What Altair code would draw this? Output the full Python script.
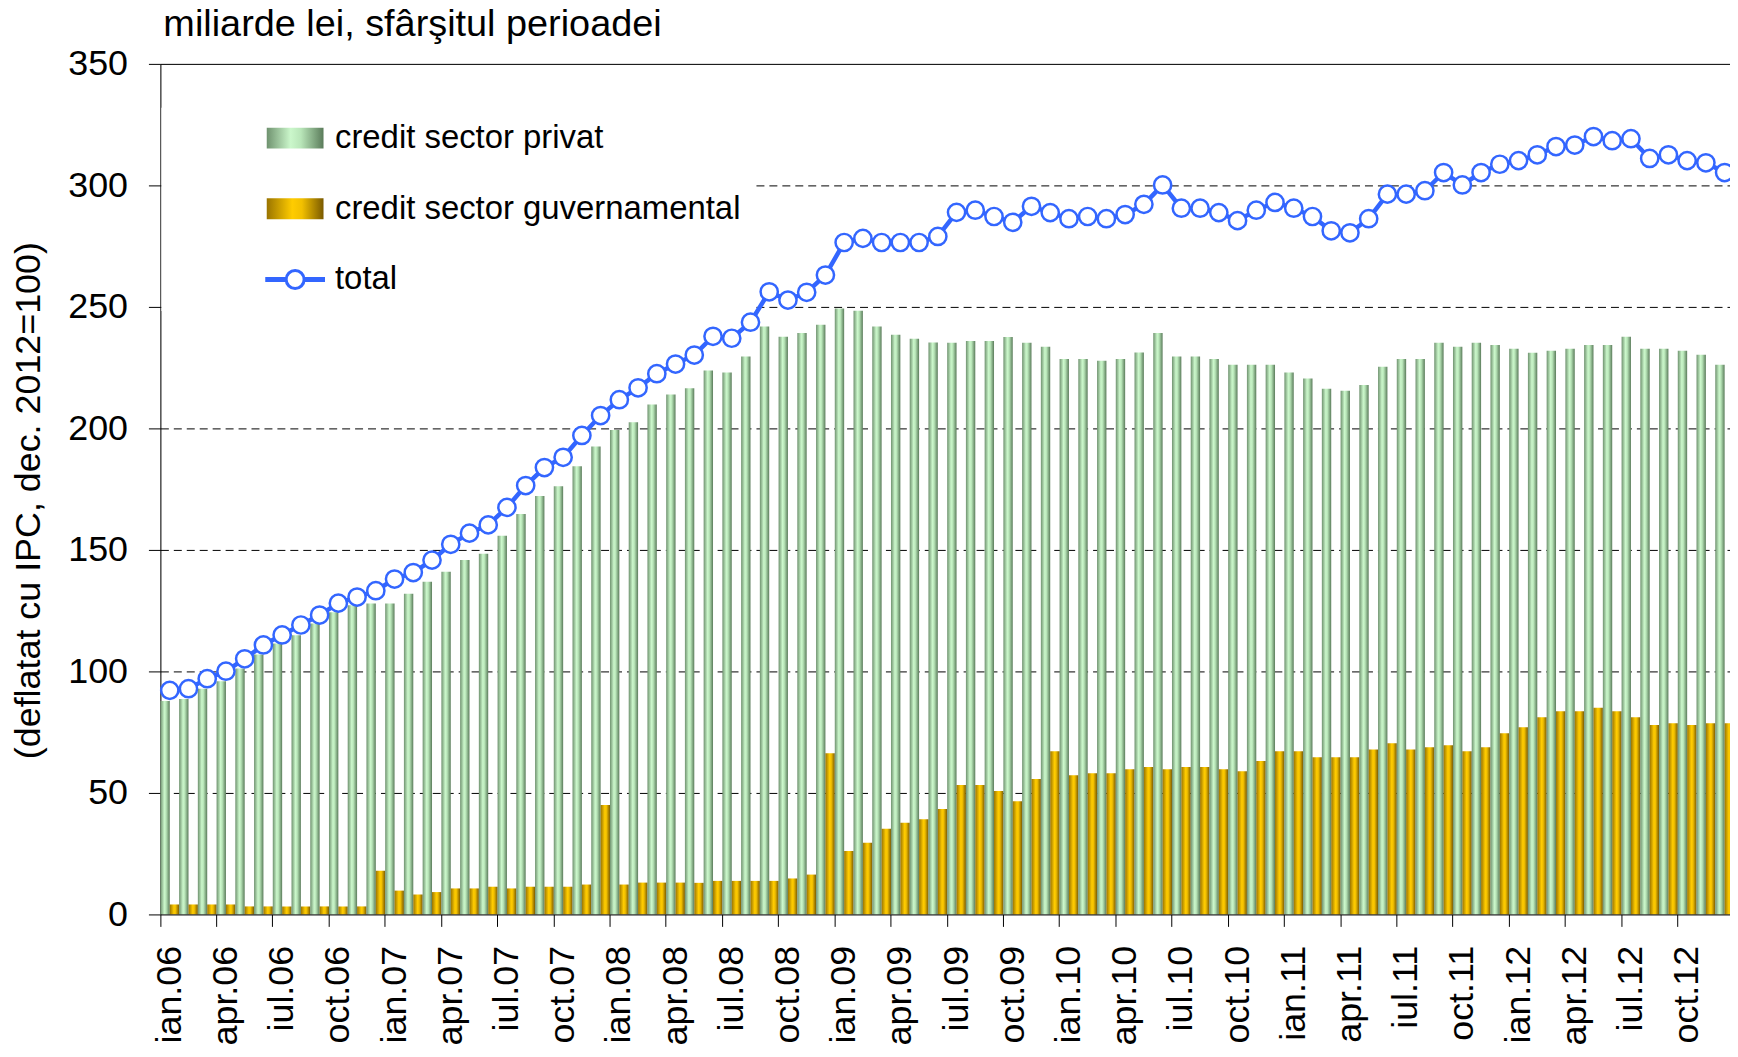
import altair as alt
import pandas as pd

FONT = "Liberation Sans, Arial, sans-serif"
BLUE = "#3366FF"

month_names = ["ian", "feb", "mar", "apr", "mai", "iun", "iul", "aug", "sep", "oct", "noi", "dec"]
years = ["06", "07", "08", "09", "10", "11", "12"]
months = [f"{m}.{y}" for y in years for m in month_names]
tick_months = [f"{m}.{y}" for y in years for m in ["ian", "apr", "iul", "oct"]]

private = [
    87.8, 88.6, 92.9, 96.0, 101.2, 107.0, 111.5, 114.9, 119.7, 124.3, 127.2, 127.9,
    127.9, 132.0, 136.9, 141.0, 145.9, 148.4, 155.8, 164.8, 172.2, 176.2, 184.4, 192.6,
    199.3, 202.5, 209.8, 214.0, 216.5, 223.8, 223.0, 229.6, 241.9, 237.7, 239.3, 242.7,
    249.3, 248.4, 241.9, 238.5, 236.9, 235.3, 235.2, 236.0, 236.0, 237.6, 235.2, 233.6,
    228.6, 228.6, 227.8, 228.6, 231.2, 239.3, 229.6, 229.6, 228.6, 226.2, 226.2, 226.2,
    223.0, 220.5, 216.3, 215.5, 217.9, 225.4, 228.6, 228.6, 235.2, 233.6, 235.2, 234.3,
    232.8, 231.1, 232.0, 232.8, 234.3, 234.3, 237.7, 232.8, 232.8, 232.0, 230.3, 226.2,
]
government = [
    4.1, 4.1, 4.1, 4.1, 3.3, 3.3, 3.3, 3.3, 3.3, 3.3, 3.3, 18.0,
    9.8, 8.2, 9.2, 10.7, 10.7, 11.4, 10.7, 11.4, 11.4, 11.4, 12.3, 45.0,
    12.3, 13.1, 13.1, 13.1, 13.0, 13.8, 13.8, 13.8, 13.8, 14.8, 16.4, 66.3,
    26.1, 29.5, 35.3, 37.7, 39.2, 43.4, 53.3, 53.3, 50.8, 46.6, 55.7, 67.1,
    57.3, 58.1, 58.1, 59.7, 60.7, 59.7, 60.7, 60.7, 59.7, 58.9, 63.1, 67.1,
    67.1, 64.7, 64.7, 64.7, 67.9, 70.4, 67.9, 68.8, 69.6, 67.1, 68.8, 74.6,
    77.0, 81.1, 83.6, 83.6, 85.1, 83.6, 81.1, 77.9, 78.7, 77.9, 78.7, 78.7,
]
total = [
    92.2, 92.9, 97.0, 100.1, 105.2, 110.9, 115.0, 119.1, 123.2, 128.1, 130.6, 133.2,
    138.0, 140.7, 145.8, 152.3, 156.9, 160.3, 167.5, 176.5, 183.9, 188.1, 197.1, 205.3,
    211.8, 216.7, 222.5, 226.5, 230.2, 237.9, 237.1, 243.7, 256.2, 252.8, 256.0, 263.1,
    276.5, 278.2, 276.5, 276.5, 276.5, 279.0, 288.9, 289.8, 287.2, 284.8, 291.4, 288.8,
    286.3, 287.2, 286.3, 288.0, 292.2, 300.2, 290.6, 290.6, 288.8, 285.5, 289.8, 293.0,
    290.6, 287.2, 281.3, 280.5, 286.3, 296.4, 296.4, 297.8, 305.3, 300.2, 305.3, 308.7,
    310.2, 312.6, 316.0, 316.6, 320.1, 318.4, 319.2, 311.1, 312.6, 310.2, 309.3, 305.3,
]

S_PRIV = "credit sector privat"
S_GOV = "credit sector guvernamental"
S_TOT = "total"
series_names = [S_PRIV, S_GOV, S_TOT]

rows = []
for i, m in enumerate(months):
    rows.append({"month": m, "series": S_PRIV, "value": private[i]})
    rows.append({"month": m, "series": S_GOV, "value": government[i]})
    rows.append({"month": m, "series": S_TOT, "value": total[i]})
df = pd.DataFrame(rows)
legend_df = pd.DataFrame({"series": series_names})

grad_green = ("{gradient: 'linear', x1: 0, y1: 0, x2: 1, y2: 0, stops: ["
              "{offset: 0, color: '#6f926f'}, {offset: 0.42, color: '#cbf7cb'}, "
              "{offset: 0.6, color: '#b9e6b9'}, {offset: 1, color: '#5a7b5a'}]}")
grad_gold = ("{gradient: 'linear', x1: 0, y1: 0, x2: 1, y2: 0, stops: ["
             "{offset: 0, color: '#9a7400'}, {offset: 0.45, color: '#ffcc00'}, "
             "{offset: 0.62, color: '#f2c000'}, {offset: 1, color: '#7a5a00'}]}")

swatch = "M-1.9,-0.7H1.9V0.7H-1.9Z"
line_sym = ("M-2,-0.07H-0.62M0.62,-0.07H2M-2,0.07H-0.62M0.62,0.07H2"
            "M-0.6,0A0.6,0.6 0 1,1 0.6,0A0.6,0.6 0 1,1 -0.6,0")

fill_scale = alt.Scale(domain=series_names,
                       range=[{"expr": grad_green}, {"expr": grad_gold}, "white"])
stroke_scale = alt.Scale(domain=series_names, range=["transparent", "transparent", BLUE])
shape_scale = alt.Scale(domain=series_names, range=[swatch, swatch, line_sym])

leg = alt.Legend(
    title=None, orient="none", legendX=1, legendY=44, padding=14,
    fillColor="white", symbolSize=900, symbolOffset=103.8, labelOffset=23.5,
    rowPadding=37, labelFontSize=33, labelFont=FONT, labelColor="black",
    labelLimit=1000, symbolStrokeWidth=3, symbolOpacity=1,
)

x_enc = alt.X(
    "month:N",
    scale=alt.Scale(domain=months, paddingInner=0, paddingOuter=0),
    axis=alt.Axis(
        values=tick_months, title=None, labelAngle=270, labelAlign="right",
        labelBaseline="middle", labelFontSize=36, labelFont=FONT, labelColor="black",
        labelPadding=19, tickSize=12, tickColor="black", tickWidth=1,
        domainColor="black", domainWidth=1, grid=False, bandPosition=0,
        labelOverlap=False, zindex=1,
    ),
)
y_enc = alt.Y(
    "value:Q",
    scale=alt.Scale(domain=[0, 350], nice=False, zero=True),
    axis=alt.Axis(
        values=[0, 50, 100, 150, 200, 250, 300, 350],
        title="(deflatat cu IPC, dec. 2012=100)",
        titleFontSize=36, titleFont=FONT, titleFontWeight="normal", titleColor="black",
        titleAngle=270, titleX=-132, titleY=438, titleAlign="center", titleBaseline="middle",
        labelFontSize=36, labelFont=FONT, labelColor="black", labelPadding=21,
        tickSize=12, tickColor="black", domainColor="black", domainWidth=1,
        grid=True, gridColor="black", gridWidth=1,
        gridDash={"condition": {"test": "datum.value === 350", "value": []}, "value": [8, 5]},
        gridOpacity={"condition": {"test": "datum.value === 0", "value": 0}, "value": 1},
        zindex=0,
    ),
)

base = alt.Chart(df)

bars = base.transform_filter(
    alt.FieldOneOfPredicate(field="series", oneOf=[S_PRIV, S_GOV])
).mark_bar(strokeWidth=0, opacity=1).encode(
    x=x_enc,
    y=y_enc,
    xOffset=alt.XOffset("series:N", scale=alt.Scale(domain=[S_PRIV, S_GOV], paddingInner=0, paddingOuter=0)),
    fill=alt.Fill("series:N", scale=fill_scale, legend=leg),
)

line = base.transform_filter(alt.datum.series == S_TOT).mark_line(
    color=BLUE, strokeWidth=4.5
).encode(x=x_enc, y=y_enc)

points = base.transform_filter(alt.datum.series == S_TOT).mark_point(
    filled=True, fill="white", stroke=BLUE, strokeWidth=2.5, size=300, opacity=1
).encode(x=x_enc, y=y_enc)

legend_layer = alt.Chart(legend_df).mark_point(
    filled=True, clip=True, opacity=1, size=900
).encode(
    x=alt.value(-1000),
    y=alt.value(-1000),
    fill=alt.Fill("series:N", scale=fill_scale, legend=leg),
    stroke=alt.Stroke("series:N", scale=stroke_scale, legend=leg),
    shape=alt.Shape("series:N", scale=shape_scale, legend=leg),
)

chart = alt.layer(bars, line, points, legend_layer).properties(
    width=1580,
    height=854,
    autosize=alt.AutoSizeParams(type="none"),
    padding={"left": 153, "top": 54, "right": -4, "bottom": 133},
    title=alt.TitleParams(
        "miliarde lei, sfârşitul perioadei", anchor="start", frame="group",
        fontSize=38, font=FONT, fontWeight="normal", color="black",
        baseline="alphabetic", offset=7, dx=3, dy=35,
    ),
).configure_view(stroke=None).configure(background="white")

chart.save("out.html", embed_options={"renderer": "svg", "actions": False})
